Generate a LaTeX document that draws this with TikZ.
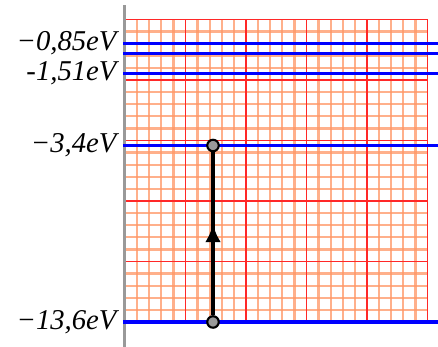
\documentclass[tikz,border=0pt]{standalone}
\usepackage{fontspec}
\setmainfont{Liberation Serif}
\usetikzlibrary{positioning, arrows.meta, decorations.markings}

\definecolor{gridorange}{RGB}{255,150,100}
\definecolor{gridred}{RGB}{255,40,40}

\begin{document}
\begin{tikzpicture}[
    minor/.style={draw=gridorange, line width=1.1pt, opacity=0.75},
    major/.style={draw=gridred, line width=0.6pt},
    axis/.style={draw=gray!80, line width=1.4pt},
    level/.style={draw=blue, line width=1.8pt},
    lbl/.style={font=\fontsize{13.5}{16}\selectfont\itshape, inner sep=0pt},
    dot/.style={circle, draw=black, fill=gray!80, line width=1pt, minimum size=0.19cm, inner sep=0pt},
    jump/.style={draw, line width=1.8pt, postaction={decorate},
        decoration={markings, mark=at position 0.56 with {\arrow{Latex[length=3mm, width=2.6mm]}}}}
]
\useasboundingbox (-2.066,-0.413) rectangle (5.174,5.322);

% Grid
\foreach \i in {1,...,24} {
    \pgfmathtruncatemacro\r{mod(\i,5)}
    \ifnum\r>0
        \draw[minor] (\i*0.2,0) -- (\i*0.2,5);
        \draw[minor] (0,\i*0.2) -- (5,\i*0.2);
    \fi
}
\foreach \i in {1,...,4} {
    \draw[major] (\i,0) -- (\i,5);
    \draw[major] (0,\i) -- (5,\i);
}
\draw[major] (0,0) rectangle (5,5);

% Axis
\coordinate (axbot) at (0,-0.413);
\coordinate (axtop) at (0,5.24);
\path[axis] (axbot) -- (axtop);

% Levels
\foreach \n/\y in {1/0, 2/2.917, 3/4.107, 4/4.438, 5/4.603} {
    \coordinate (l\n) at (-0.033,\y);
    \coordinate (r\n) at (5.174,\y);
    \path[level] (l\n) -- (r\n);
}

% Labels
\node [lbl, left=0.1cm of l1] (e1) {−13,6eV};
\node [lbl, left=0.1cm of l2] (e2) {−3,4eV};
\node [lbl, left=0.1cm of l3] (e3) {-1,51eV};
\node [lbl, left=0.1cm of l5] (e5) {−0,85eV};

% Transition
\node [dot] (low) at (1.455,0) {};
\node [dot] (high) at (1.455,2.917) {};
\path [jump] (low) -- (high);

\end{tikzpicture}
\end{document}
